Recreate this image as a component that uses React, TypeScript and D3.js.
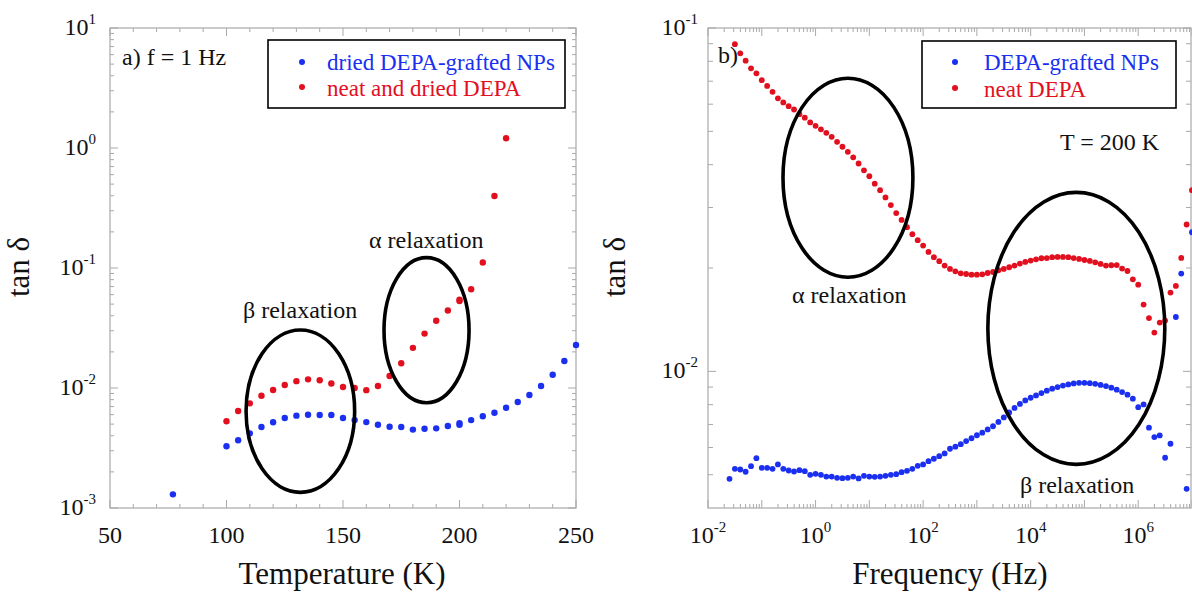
import React from 'react';
import * as d3 from 'd3';

// ---------- Panel a) : tan delta vs temperature at f = 1 Hz ----------
const tempBlue = [77, 100, 105, 110, 115, 120, 125, 130, 135, 140, 145, 150, 155, 160, 165, 170, 175, 180, 185, 190, 195, 200, 200, 205, 210, 215, 220, 225, 230, 235, 240, 245, 250];
const tanBlueT = [0.0013, 0.00327, 0.00367, 0.00419, 0.00473, 0.00518, 0.00562, 0.00588, 0.00599, 0.00596, 0.00596, 0.00562, 0.0054, 0.0052, 0.00494, 0.00476, 0.00473, 0.0045, 0.00458, 0.00461, 0.00482, 0.00494, 0.0051, 0.0054, 0.00581, 0.00622, 0.00685, 0.00764, 0.00875, 0.0104, 0.0129, 0.0168, 0.0228];
const tempRed = [100, 105, 110, 115, 120, 125, 130, 135, 140, 145, 150, 155, 160, 165, 170, 175, 180, 185, 190, 195, 200, 200, 205, 210, 215, 220];
const tanRedT = [0.00528, 0.00644, 0.00745, 0.00862, 0.00962, 0.0106, 0.0114, 0.0118, 0.0116, 0.0109, 0.0102, 0.01, 0.0096, 0.0104, 0.0126, 0.0161, 0.0216, 0.0284, 0.0363, 0.0442, 0.053, 0.0544, 0.0665, 0.111, 0.398, 1.205];

// ---------- Panel b) : tan delta vs frequency at T = 200 K ----------
const freqHz = [
  2.512e-2, 3.162e-2, 3.981e-2, 5.012e-2, 6.31e-2, 7.943e-2,
  1e-1, 1.259e-1, 1.585e-1, 1.995e-1, 2.512e-1, 3.162e-1, 3.981e-1, 5.012e-1, 6.31e-1, 7.943e-1,
  1e0, 1.259e0, 1.585e0, 1.995e0, 2.512e0, 3.162e0, 3.981e0, 5.012e0, 6.31e0, 7.943e0,
  1e1, 1.259e1, 1.585e1, 1.995e1, 2.512e1, 3.162e1, 3.981e1, 5.012e1, 6.31e1, 7.943e1,
  1e2, 1.259e2, 1.585e2, 1.995e2, 2.512e2, 3.162e2, 3.981e2, 5.012e2, 6.31e2, 7.943e2,
  1e3, 1.259e3, 1.585e3, 1.995e3, 2.512e3, 3.162e3, 3.981e3, 5.012e3, 6.31e3, 7.943e3,
  1e4, 1.259e4, 1.585e4, 1.995e4, 2.512e4, 3.162e4, 3.981e4, 5.012e4, 6.31e4, 7.943e4,
  1e5, 1.259e5, 1.585e5, 1.995e5, 2.512e5, 3.162e5, 3.981e5, 5.012e5, 6.31e5, 7.943e5,
  1e6, 1.259e6, 1.585e6, 1.995e6, 2.512e6, 3.162e6, 3.981e6, 5.012e6, 6.31e6, 7.943e6,
  1e7,
];
const tanBlueF = [
  0.004866, 0.005203, 0.005179, 0.0051, 0.005295, 0.005586,
  0.005238, 0.005238, 0.005203, 0.005357, 0.005203, 0.005144, 0.00511, 0.005155, 0.00512, 0.004997,
  0.00503, 0.004997, 0.00494, 0.00494, 0.004898, 0.004885, 0.004898, 0.00494, 0.004876, 0.004963,
  0.00494, 0.00493, 0.00494, 0.004963, 0.004997, 0.005017, 0.005085, 0.005133, 0.005203, 0.005309,
  0.005357, 0.005476, 0.005565, 0.005664, 0.005767, 0.005951, 0.006034, 0.006138, 0.006264, 0.006386,
  0.006516, 0.006631, 0.006775, 0.00692, 0.007124, 0.007342, 0.007593, 0.007826, 0.008037, 0.008229,
  0.008378, 0.008511, 0.008643, 0.008784, 0.008904, 0.008999, 0.00909, 0.009164, 0.009226, 0.009258,
  0.009258, 0.009239, 0.009196, 0.009133, 0.00906, 0.008964, 0.008843, 0.008703, 0.00855, 0.008324,
  0.007867, 0.008012, 0.006853, 0.006434, 0.006506, 0.005603, 0.006155, 0.0144, 0.01927, 0.00455,
  0.02542,
];
// neat DEPA starts one frequency step later (freqHz[1])
const tanRedF = [
  0.0897, 0.0844, 0.0803, 0.0763, 0.0738,
  0.0705, 0.0678, 0.0652, 0.0624, 0.0607, 0.0592, 0.0579, 0.0561, 0.0548, 0.0531,
  0.0519, 0.0507, 0.0495, 0.0482, 0.0466, 0.0451, 0.0436, 0.042, 0.0403, 0.0385,
  0.037, 0.0352, 0.0337, 0.0321, 0.0305, 0.0289, 0.0276, 0.0263, 0.0251, 0.0241,
  0.02324, 0.02228, 0.0215, 0.02094, 0.02033, 0.01987, 0.01956, 0.0193, 0.01921, 0.01913,
  0.01913, 0.01917, 0.01934, 0.01947, 0.0197, 0.01987, 0.0201, 0.02033, 0.0206, 0.02083,
  0.02102, 0.0212, 0.02135, 0.02138, 0.0215, 0.02154, 0.02154, 0.0215, 0.02138, 0.02125,
  0.0211, 0.02097, 0.02078, 0.02055, 0.02033, 0.02037, 0.0204, 0.01992, 0.0196, 0.01854,
  0.01789, 0.01565, 0.0143, 0.01297, 0.01387, 0.01406, 0.01696, 0.01773, 0.0214, 0.02677,
  0.0337,
];

// ---------- Axis ticks & labels ----------
const tempTicks = [50, 100, 150, 200, 250];
const tempMinorTicks = [60, 70, 80, 90, 110, 120, 130, 140, 160, 170, 180, 190, 210, 220, 230, 240];
const tanTExps = [1, 0, -1, -2, -3];
const freqExps = [-2, 0, 2, 4, 6];
const tanFExps = [-1, -2];

const legendT = ['dried DEPA-grafted NPs', 'neat and dried DEPA'];
const legendF = ['DEPA-grafted NPs', 'neat DEPA'];

// Relaxation ellipses in data space: [xMin, xMax, yMin, yMax]
const ellipsesT = [
  { name: 'β relaxation', box: [108.4, 155, 0.00135, 0.0304] },
  { name: 'α relaxation', box: [167.6, 204.1, 0.00754, 0.122] },
];
const ellipsesF = [
  { name: 'α relaxation', box: [0.248, 64.6, 0.0188, 0.0714] },
  { name: 'β relaxation', box: [1600, 3.12e6, 0.00536, 0.0332] },
];

const BLUE = '#1a2ff0';
const RED = '#e2101f';
const FRAME = '#a9a9a9';
const FONT = '"Liberation Serif", "Times New Roman", Times, serif';

const L = { x0: 110, x1: 576, y0: 28, y1: 508 };
const R = { x0: 708, x1: 1192, y0: 28, y1: 508 };

const xT = d3.scaleLinear().domain([50, 250]).range([L.x0, L.x1]);
const yT = d3.scaleLog().domain([1e-3, 10]).range([L.y1, L.y0]);
const xF = d3.scaleLog().domain([1e-2, 1e7]).range([R.x0, R.x1]);
const yF = d3.scaleLog().domain([0.004, 0.1]).range([R.y1, R.y0]);

function logMinors(lo: number, hi: number) {
  const out: number[] = [];
  for (let e = Math.floor(Math.log10(lo)); e <= Math.ceil(Math.log10(hi)); e++) {
    for (let m = 2; m <= 9; m++) {
      const v = m * Math.pow(10, e);
      if (v > lo * 1.0001 && v < hi * 0.9999) out.push(v);
    }
  }
  return out;
}

function Pow({ x, y, exp, anchor }: { x: number; y: number; exp: number; anchor: string }) {
  return (
    <text x={x} y={y} textAnchor={anchor} fontFamily={FONT} fontSize={24} fill="#111">
      10<tspan dy={-11} fontSize={15}>{String(exp)}</tspan>
    </text>
  );
}

function Ellipse({ sx, sy, box }: any) {
  const [a, b, c, d] = box;
  const xa = sx(a), xb = sx(b), ya = sy(c), yb = sy(d);
  return (
    <ellipse cx={(xa + xb) / 2} cy={(ya + yb) / 2} rx={Math.abs(xb - xa) / 2} ry={Math.abs(ya - yb) / 2}
      fill="none" stroke="#000" strokeWidth={3.6} />
  );
}

export default function App() {
  const tMinorY = logMinors(1e-3, 10);
  const fMinorX = logMinors(1e-2, 1e7);
  const fMinorY = logMinors(0.004, 0.1);
  const txt = { fontFamily: FONT, fill: '#111' } as any;

  return (
    <svg width={1192} height={596} style={{ position: 'absolute', left: 0, top: 0, background: '#fff' }}>
      <rect x={0} y={0} width={1192} height={596} fill="#fff" />

      {/* ================= Panel a ================= */}
      <g>
        <rect x={L.x0} y={L.y0} width={L.x1 - L.x0} height={L.y1 - L.y0} fill="none" stroke={FRAME} strokeWidth={1.2} />
        {tempTicks.map((t) => (
          <g key={'tt' + t}>
            <line x1={xT(t)} x2={xT(t)} y1={L.y1} y2={L.y1 - 8} stroke={FRAME} />
            <line x1={xT(t)} x2={xT(t)} y1={L.y0} y2={L.y0 + 8} stroke={FRAME} />
            <text x={xT(t)} y={543} textAnchor="middle" fontSize={24} {...txt}>{t}</text>
          </g>
        ))}
        {tempMinorTicks.map((t) => (
          <g key={'tm' + t}>
            <line x1={xT(t)} x2={xT(t)} y1={L.y1} y2={L.y1 - 4} stroke={FRAME} />
            <line x1={xT(t)} x2={xT(t)} y1={L.y0} y2={L.y0 + 4} stroke={FRAME} />
          </g>
        ))}
        {tanTExps.map((e) => {
          const y = yT(Math.pow(10, e));
          return (
            <g key={'ty' + e}>
              <line x1={L.x0} x2={L.x0 + 8} y1={y} y2={y} stroke={FRAME} />
              <line x1={L.x1} x2={L.x1 - 8} y1={y} y2={y} stroke={FRAME} />
              <Pow x={96} y={y + 7} exp={e} anchor="end" />
            </g>
          );
        })}
        {tMinorY.map((v, i) => (
          <g key={'tmy' + i}>
            <line x1={L.x0} x2={L.x0 + 4} y1={yT(v)} y2={yT(v)} stroke={FRAME} />
            <line x1={L.x1} x2={L.x1 - 4} y1={yT(v)} y2={yT(v)} stroke={FRAME} />
          </g>
        ))}

        {tempRed.map((t, i) => (
          <circle key={'rt' + i} cx={xT(t)} cy={yT(tanRedT[i])} r={3.2} fill={RED} />
        ))}
        {tempBlue.map((t, i) => (
          <circle key={'bt' + i} cx={xT(t)} cy={yT(tanBlueT[i])} r={3.2} fill={BLUE} />
        ))}

        {ellipsesT.map((el) => (
          <Ellipse key={el.name} sx={xT} sy={yT} box={el.box} />
        ))}
        <text x={243} y={318} fontSize={24} {...txt}>β relaxation</text>
        <text x={369} y={248} fontSize={24} {...txt}>α relaxation</text>

        <text x={122} y={65} fontSize={24} {...txt}>a) f = 1 Hz</text>

        <rect x={268} y={40} width={297} height={68} fill="#fff" stroke="#000" strokeWidth={1.6} />
        <circle cx={302} cy={62} r={3} fill={BLUE} />
        <text x={327} y={70} fontSize={23} fontFamily={FONT} fill={BLUE}>{legendT[0]}</text>
        <circle cx={302} cy={87} r={3} fill={RED} />
        <text x={327} y={96} fontSize={23} fontFamily={FONT} fill={RED}>{legendT[1]}</text>

        <text x={342} y={584} textAnchor="middle" fontSize={31} {...txt}>Temperature (K)</text>
        <text transform="translate(29,267) rotate(-90)" textAnchor="middle" fontSize={31} {...txt}>tan δ</text>
      </g>

      {/* ================= Panel b ================= */}
      <g>
        <rect x={R.x0} y={R.y0} width={R.x1 - R.x0 - 1} height={R.y1 - R.y0} fill="none" stroke={FRAME} strokeWidth={1.2} />
        {freqExps.map((e) => {
          const x = xF(Math.pow(10, e));
          return (
            <g key={'fx' + e}>
              <Pow x={x} y={543} exp={e} anchor="middle" />
            </g>
          );
        })}
        {d3.range(-2, 8).map((e) => {
          const x = xF(Math.pow(10, e));
          return (
            <g key={'fxm' + e}>
              <line x1={x} x2={x} y1={R.y1} y2={R.y1 - 8} stroke={FRAME} />
              <line x1={x} x2={x} y1={R.y0} y2={R.y0 + 8} stroke={FRAME} />
            </g>
          );
        })}
        {fMinorX.map((v, i) => (
          <g key={'fmx' + i}>
            <line x1={xF(v)} x2={xF(v)} y1={R.y1} y2={R.y1 - 4} stroke={FRAME} />
            <line x1={xF(v)} x2={xF(v)} y1={R.y0} y2={R.y0 + 4} stroke={FRAME} />
          </g>
        ))}
        {tanFExps.map((e) => {
          const y = yF(Math.pow(10, e));
          return (
            <g key={'fy' + e}>
              <line x1={R.x0} x2={R.x0 + 8} y1={y} y2={y} stroke={FRAME} />
              <line x1={R.x1 - 1} x2={R.x1 - 9} y1={y} y2={y} stroke={FRAME} />
              <Pow x={698} y={y + 7} exp={e} anchor="end" />
            </g>
          );
        })}
        {fMinorY.map((v, i) => (
          <g key={'fmy' + i}>
            <line x1={R.x0} x2={R.x0 + 5} y1={yF(v)} y2={yF(v)} stroke={FRAME} />
            <line x1={R.x1 - 1} x2={R.x1 - 6} y1={yF(v)} y2={yF(v)} stroke={FRAME} />
          </g>
        ))}

        {tanRedF.map((v, i) => (
          <circle key={'rf' + i} cx={xF(freqHz[i + 1])} cy={yF(v)} r={2.9} fill={RED} />
        ))}
        {tanBlueF.map((v, i) => (
          <circle key={'bf' + i} cx={xF(freqHz[i])} cy={yF(v)} r={2.9} fill={BLUE} />
        ))}

        {ellipsesF.map((el) => (
          <Ellipse key={el.name} sx={xF} sy={yF} box={el.box} />
        ))}
        <text x={792} y={303} fontSize={24} {...txt}>α relaxation</text>
        <text x={1020} y={493} fontSize={24} {...txt}>β relaxation</text>

        <text x={718} y={63} fontSize={24} {...txt}>b)</text>
        <text x={1060} y={150} fontSize={24} {...txt}>T = 200 K</text>

        <rect x={922} y={41} width={254} height={67} fill="#fff" stroke="#000" strokeWidth={1.6} />
        <circle cx={955} cy={62} r={3} fill={BLUE} />
        <text x={984} y={70} fontSize={23} fontFamily={FONT} fill={BLUE}>{legendF[0]}</text>
        <circle cx={955} cy={88} r={3} fill={RED} />
        <text x={984} y={97} fontSize={23} fontFamily={FONT} fill={RED}>{legendF[1]}</text>

        <text x={950} y={584} textAnchor="middle" fontSize={31} {...txt}>Frequency (Hz)</text>
        <text transform="translate(625,267) rotate(-90)" textAnchor="middle" fontSize={31} {...txt}>tan δ</text>
      </g>
    </svg>
  );
}
